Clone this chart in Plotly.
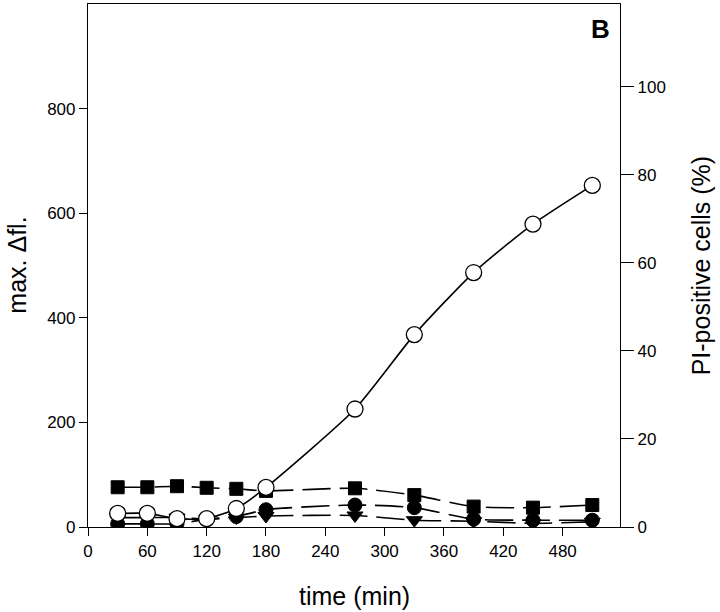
import plotly.graph_objects as go

time = [30, 60, 90, 120, 150, 180, 270, 330, 390, 450, 510]
pi_positive_pct = [3.1, 3.1, 1.9, 1.9, 4.2, 9.0, 26.8, 43.7, 57.8, 68.8, 77.6]
sq_fl = [76, 76, 78, 75, 73, 69, 74, 61, 39, 37, 42]
circ_fl = [6, 6, 6, 15, 20, 33, 42, 37, 15, 13, 13]
tri_fl = [18, 18, 18, 15, 18, 21, 22, 13, 11, 7, 10]

x_ticks = [0, 60, 120, 180, 240, 300, 360, 420, 480]
y_left_ticks = [0, 200, 400, 600, 800]
y_right_ticks = [0, 20, 40, 60, 80, 100]

FONT = "Liberation Sans, Arial, sans-serif"
fig = go.Figure()

dash = "28px,9px"
for vals, sym, size in [(tri_fl, "triangle-down", 14), (circ_fl, "circle", 14), (sq_fl, "square", 13)]:
    fig.add_trace(go.Scatter(
        x=time, y=vals, mode="lines+markers",
        line=dict(color="black", width=1.6, dash=dash, shape="spline", smoothing=0.6),
        marker=dict(symbol=sym, size=size, color="black", line=dict(color="black", width=1)),
        yaxis="y", showlegend=False))

fig.add_trace(go.Scatter(
    x=time, y=pi_positive_pct, mode="lines+markers",
    line=dict(color="black", width=1.6, shape="spline", smoothing=0.6),
    marker=dict(symbol="circle", size=16, color="white", line=dict(color="black", width=1.3)),
    yaxis="y2", showlegend=False))

axis_common = dict(showline=True, linecolor="black", linewidth=1.2, ticks="outside",
                   tickwidth=1.2, tickcolor="black", showgrid=False, zeroline=False,
                   tickfont=dict(family=FONT, size=17, color="black"))

fig.update_layout(
    width=720, height=612,
    margin=dict(l=88, r=100, t=4, b=85),
    plot_bgcolor="white", paper_bgcolor="white",
    xaxis=dict(range=[0, 538], tickvals=x_ticks, mirror=True, ticklen=8, **axis_common),
    yaxis=dict(range=[0, 1000], tickvals=y_left_ticks, ticklen=8, **axis_common),
    yaxis2=dict(range=[0, 118.8], tickvals=y_right_ticks, overlaying="y", side="right",
                ticklen=13, **axis_common),
    annotations=[
        dict(text="time (min)", x=0.5, y=-0.132, xref="paper", yref="paper", showarrow=False,
             yanchor="middle", font=dict(family=FONT, size=25, color="black")),
        dict(text="max. Δfl.", x=-0.135, y=0.5, xref="paper", yref="paper", showarrow=False,
             textangle=-90, xanchor="center", font=dict(family=FONT, size=25, color="black")),
        dict(text="PI-positive cells (%)", x=1.152, y=0.5, xref="paper", yref="paper", showarrow=False,
             textangle=-90, xanchor="center", font=dict(family=FONT, size=25, color="black")),
        dict(text="<b>B</b>", x=0.985, y=0.985, xref="paper", yref="paper", showarrow=False,
             xanchor="right", yanchor="top", font=dict(family=FONT, size=26, color="black")),
    ],
)

fig.write_html("out.html", config={"displayModeBar": False},
               post_script="document.body.style.margin='0';")
